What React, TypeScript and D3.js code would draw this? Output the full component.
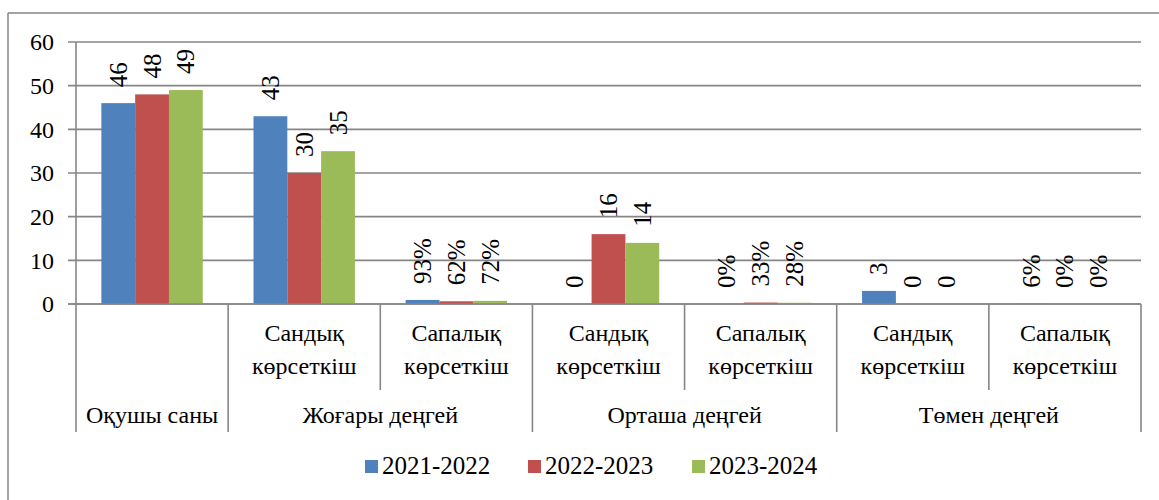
import React from "react";
import * as d3 from "d3";

const categories = ["c0", "c1", "c2", "c3", "c4", "c5", "c6"];
const subLabels = ["", "Сандық|көрсеткіш", "Сапалық|көрсеткіш", "Сандық|көрсеткіш", "Сапалық|көрсеткіш", "Сандық|көрсеткіш", "Сапалық|көрсеткіш"];
const groups = [
  { name: "Оқушы саны", from: 0, to: 1 },
  { name: "Жоғары деңгей", from: 1, to: 3 },
  { name: "Орташа деңгей", from: 3, to: 5 },
  { name: "Төмен деңгей", from: 5, to: 7 },
];
const seriesNames = ["2021-2022", "2022-2023", "2023-2024"];
const colors = ["#4F81BD", "#C0504D", "#9BBB59"];
const s2021 = [46, 43, 0.93, 0, 0, 3, 0.06];
const s2022 = [48, 30, 0.62, 16, 0.33, 0, 0];
const s2023 = [49, 35, 0.72, 14, 0.28, 0, 0];
const labels2021 = ["46", "43", "93%", "0", "0%", "3", "6%"];
const labels2022 = ["48", "30", "62%", "16", "33%", "0", "0%"];
const labels2023 = ["49", "35", "72%", "14", "28%", "0", "0%"];
const yTicks = [0, 10, 20, 30, 40, 50, 60];

const series = [s2021, s2022, s2023];
const seriesLabels = [labels2021, labels2022, labels2023];

const GRID = "#868686";

function T(props: any) {
  const { children, size, ...rest } = props;
  return (
    <text {...rest} fill="#000" fontSize={size} fontFamily="Liberation Serif" style={{ fontFamily: `"Liberation Serif"` }}>
      {children}
    </text>
  );
}

export default function App() {
  const left = 76, right = 1141, top = 42, bottom = 304;
  const x = d3.scaleBand<string>().domain(categories).range([left, right]).padding(0);
  const xs = d3.scaleBand<number>().domain([0, 1, 2]).range([0, x.bandwidth()]).paddingInner(0).paddingOuter(0.75);
  const y = d3.scaleLinear().domain([0, 60]).range([bottom, top]);
  const bx = (i: number) => left + i * x.step();

  const legendItems = [
    { sq: 365, tx: 382 },
    { sq: 528, tx: 545 },
    { sq: 692, tx: 709 },
  ];

  return (
    <div style={{ fontFamily: `"Liberation Serif"` }}>
      <svg width={1159} height={500} fontFamily="Liberation Serif" style={{ display: "block", position: "absolute", left: 0, top: 0 }}>
        <style>{`text { font-family: "Liberation Serif", "Tinos", serif; }`}</style>
        <rect x={0} y={0} width={1159} height={500} fill="#fff" />
        <line x1={8} y1={13} x2={1159} y2={13} stroke={GRID} strokeWidth={1.5} />
        <line x1={8} y1={13} x2={8} y2={500} stroke={GRID} strokeWidth={1.5} />
        {yTicks.map((t) => (
          <g key={t}>
            <line x1={68} x2={right} y1={y(t)} y2={y(t)} stroke={GRID} strokeWidth={1.6} />
            <T x={54} y={y(t)} dy="0.35em" textAnchor="end" size={24}>
              {t}
            </T>
          </g>
        ))}
        <line x1={left} x2={left} y1={top} y2={bottom} stroke={GRID} strokeWidth={1.6} />
        {series.map((s, si) =>
          s.map((v, ci) => {
            const xx = (x(categories[ci]) as number) + (xs(si) as number);
            return (
              <rect key={`${si}-${ci}`} x={xx} y={y(v)} width={xs.bandwidth()} height={bottom - y(v)} fill={colors[si]} />
            );
          })
        )}
        {series.map((s, si) =>
          s.map((v, ci) => {
            const cx = (x(categories[ci]) as number) + (xs(si) as number) + xs.bandwidth() / 2;
            const ty = y(v) - 16;
            return (
              <T
                key={`l-${si}-${ci}`}
                transform={`translate(${cx},${ty}) rotate(-90)`}
                dominantBaseline="central"
                size={25}
              >
                {seriesLabels[si][ci]}
              </T>
            );
          })
        )}
        <line x1={68} x2={right} y1={bottom} y2={bottom} stroke={GRID} strokeWidth={1.6} />
        {d3.range(8).map((i) => {
          const isGroupEdge = groups.some((g) => g.from === i || g.to === i);
          return (
            <line key={`sep-${i}`} x1={bx(i)} x2={bx(i)} y1={bottom} y2={isGroupEdge ? 432 : 390} stroke={GRID} strokeWidth={1.6} />
          );
        })}
        {subLabels.map((lab, i) => {
          if (!lab) return null;
          const [a, b] = lab.split("|");
          const cx = bx(i) + x.step() / 2;
          return (
            <g key={`sl-${i}`}>
              <T x={cx} y={341} textAnchor="middle" size={24}>{a}</T>
              <T x={cx} y={374} textAnchor="middle" size={24}>{b}</T>
            </g>
          );
        })}
        {groups.map((g) => (
          <T key={g.name} x={(bx(g.from) + bx(g.to)) / 2} y={423} textAnchor="middle" size={24}>
            {g.name}
          </T>
        ))}
        {seriesNames.map((n, i) => (
          <g key={n}>
            <rect x={legendItems[i].sq} y={460} width={13} height={13} fill={colors[i]} />
            <T x={legendItems[i].tx} y={474} size={25}>{n}</T>
          </g>
        ))}
      </svg>
    </div>
  );
}
